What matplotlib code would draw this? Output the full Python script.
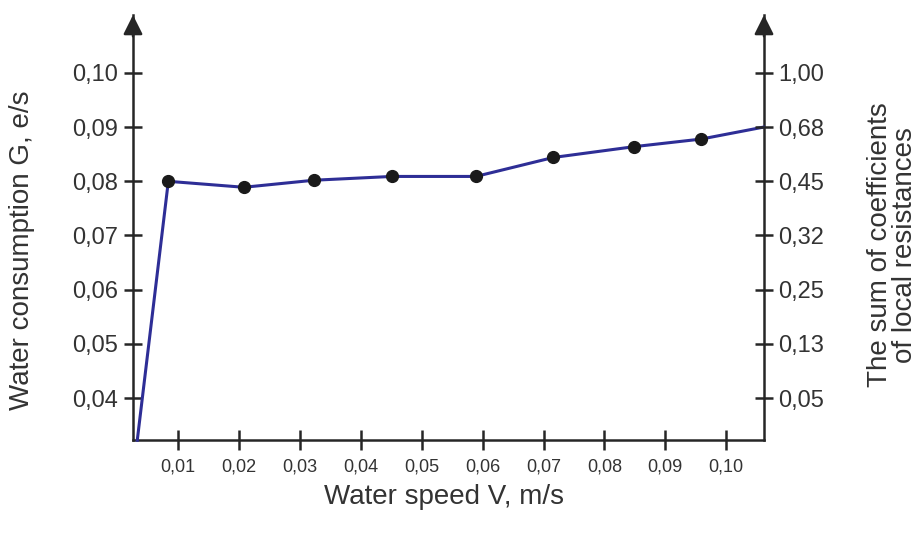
import matplotlib
matplotlib.use("Agg")
import matplotlib.pyplot as plt

plt.rcParams['font.family'] = ['Liberation Sans', 'DejaVu Sans']

# Data
speed = [0.0033, 0.0084, 0.0208, 0.0323, 0.0451, 0.0589, 0.0716, 0.0849, 0.0959, 0.1061]
consumption = [0.0322, 0.0800, 0.0789, 0.0802, 0.0809, 0.0809, 0.0844, 0.0864, 0.0878, 0.0900]
marker_idx = [1, 2, 3, 4, 5, 6, 7, 8]

x_ticks = [0.01, 0.02, 0.03, 0.04, 0.05, 0.06, 0.07, 0.08, 0.09, 0.10]
x_tick_labels = ['0,01', '0,02', '0,03', '0,04', '0,05', '0,06', '0,07', '0,08', '0,09', '0,10']
y_ticks = [0.04, 0.05, 0.06, 0.07, 0.08, 0.09, 0.10]
y_tick_labels = ['0,04', '0,05', '0,06', '0,07', '0,08', '0,09', '0,10']
right_tick_labels = ['0,05', '0,13', '0,25', '0,32', '0,45', '0,68', '1,00']

W, H = 920, 537
fig = plt.figure(figsize=(W / 100, H / 100), dpi=100)
fig.patch.set_facecolor('white')

left, right, bottom, top = 133, 764, 440, 15
ax = fig.add_axes([left / W, (H - bottom) / H, (right - left) / W, (bottom - top) / H])

axis_color = '#262626'
text_color = '#333333'
line_color = '#2E2E96'

ax.plot(speed, consumption, color=line_color, lw=2.2, zorder=3, clip_on=False)
ax.plot([speed[i] for i in marker_idx], [consumption[i] for i in marker_idx],
        'o', color='#1a1a1a', ms=8.5, zorder=4, clip_on=False)

ax.set_xlim(0.0026, 0.1062)
ax.set_ylim(0.03225, 0.1107)

ax.spines['top'].set_visible(False)
for s in ['left', 'right', 'bottom']:
    ax.spines[s].set_color(axis_color)
    ax.spines[s].set_linewidth(1.8)

ax.set_xticks(x_ticks)
ax.set_xticklabels(x_tick_labels)
ax.set_yticks(y_ticks)
ax.set_yticklabels(y_tick_labels)
ax.tick_params(axis='x', direction='inout', length=14, width=1.8, color=axis_color,
               labelsize=13, labelcolor=text_color, pad=6)
ax.tick_params(axis='y', direction='inout', length=13, width=1.8, color=axis_color,
               labelsize=17, labelcolor=text_color, pad=4)

ax2 = ax.twinx()
ax2.set_ylim(ax.get_ylim())
ax2.set_yticks(y_ticks)
ax2.set_yticklabels(right_tick_labels)
for s in ['top', 'left', 'bottom', 'right']:
    ax2.spines[s].set_visible(False)
ax2.tick_params(axis='y', direction='inout', length=13, width=1.8, color=axis_color,
                labelsize=17, labelcolor=text_color, pad=4)

# arrows at the top of both vertical axes
for xf in (0, 1):
    ax.annotate('', xy=(xf, 1.0), xytext=(xf, 0.95), xycoords='axes fraction',
                arrowprops=dict(arrowstyle='-|>,head_length=0.9,head_width=0.45',
                                color=axis_color, lw=1.8, shrinkA=0, shrinkB=0,
                                mutation_scale=13), annotation_clip=False)

fig.text(22 / W, 1 - 250 / H, 'Water consumption G, e/s', rotation=90,
         ha='center', va='center', fontsize=20, color=text_color)
fig.text(893 / W, 1 - 245 / H, 'The sum of coefficients\nof local resistances', rotation=90,
         ha='center', va='center', fontsize=20, color=text_color, linespacing=0.95)
fig.text(444 / W, 1 - 497 / H, 'Water speed V, m/s', ha='center', va='center',
         fontsize=20, color=text_color)

fig.savefig('out.png', dpi=100, facecolor='white')
